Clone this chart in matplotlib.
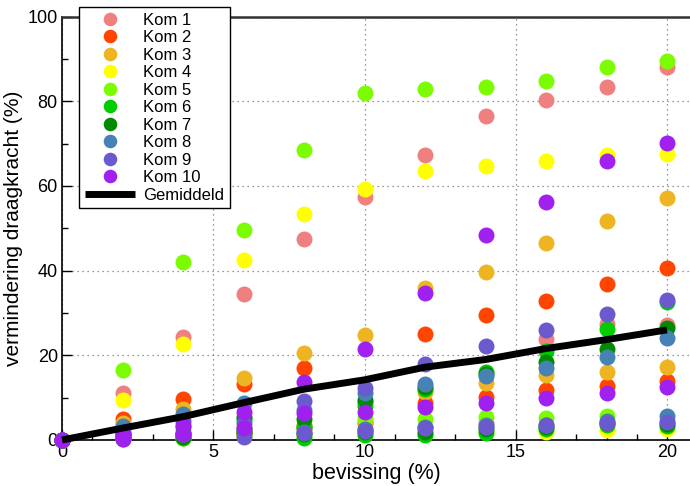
import matplotlib
matplotlib.use("Agg")
import matplotlib.pyplot as plt
from matplotlib.ticker import MultipleLocator

plt.rcParams["font.family"] = ["Liberation Sans", "DejaVu Sans"]

bevissing = [0, 2, 4, 6, 8, 10, 12, 14, 16, 18, 20]
labels = [f"Kom {i}" for i in range(1, 11)]
colors = ["#f08080", "#ff4500", "#eeb422", "#ffff00", "#7cfc00",
          "#00cd00", "#008b00", "#4682b4", "#6a5acd", "#a020f0"]

# upper scenario per Kom (%)
kom_hoog = [
    [0, 11.0, 24.3, 34.4, 47.4, 57.3, 67.4, 76.5, 80.4, 83.3, 88.1],
    [0, 5.0, 9.6, 13.2, 16.9, 9.0, 25.0, 29.5, 32.9, 36.8, 40.5],
    [0, 4.0, 7.4, 14.6, 20.5, 24.9, 35.8, 39.6, 46.6, 51.7, 57.2],
    [0, 9.5, 22.7, 42.5, 53.4, 59.2, 63.6, 64.7, 65.9, 67.3, 67.5],
    [0, 16.5, 42.0, 49.7, 68.4, 82.0, 83.0, 83.4, 84.8, 88.1, 89.5],
    [0, 1.0, 2.0, 5.0, 3.0, 8.0, 12.0, 16.1, 20.9, 26.1, 32.5],
    [0, 1.5, 3.0, 5.5, 5.0, 9.4, 12.5, 15.5, 18.5, 21.6, 26.4],
    [0, 3.3, 6.2, 8.7, 7.0, 11.0, 13.2, 15.0, 16.9, 19.7, 24.0],
    [0, 2.0, 4.5, 4.0, 9.1, 12.2, 17.9, 22.2, 26.0, 29.7, 33.1],
    [0, 1.5, 3.5, 6.7, 13.8, 21.5, 34.6, 48.4, 56.3, 65.8, 70.1],
]
# lower scenario per Kom (%)
kom_laag = [
    [0, 0.5, 1.0, 2.0, 2.5, 2.5, 3.0, 4.0, 23.8, 27.4, 27.2],
    [0, 0.8, 1.2, 2.0, 3.0, 4.0, 8.7, 10.2, 11.8, 12.8, 13.9],
    [0, 0.6, 1.0, 2.5, 3.5, 4.5, 11.4, 13.4, 15.3, 16.1, 17.3],
    [0, 0.3, 0.5, 1.0, 1.0, 1.5, 1.5, 2.0, 2.0, 2.4, 2.5],
    [0, 1.2, 1.5, 3.0, 3.5, 5.2, 5.0, 5.5, 5.1, 5.7, 4.5],
    [0, 0.2, 0.4, 1.5, 0.5, 1.2, 1.2, 1.6, 2.5, 3.5, 3.3],
    [0, 0.5, 0.8, 2.0, 1.5, 2.0, 2.0, 2.5, 3.0, 4.0, 3.8],
    [0, 1.0, 1.5, 2.5, 2.0, 2.5, 3.0, 3.5, 3.5, 4.5, 5.7],
    [0, 0.8, 1.5, 0.8, 1.6, 2.2, 2.8, 3.1, 3.5, 3.9, 4.3],
    [0, 0.3, 1.5, 2.8, 6.3, 6.7, 7.7, 8.7, 9.8, 11.0, 12.6],
]
gemiddeld = [0, 2.8, 5.5, 8.8, 12.0, 14.2, 17.2, 19.0, 21.6, 23.7, 26.0]

fig = plt.figure(figsize=(6.9, 4.86), dpi=100)
ax = fig.add_axes([0.0899, 0.0947, 0.9101, 0.8713])

for lab, col, hi, lo in zip(labels, colors, kom_hoog, kom_laag):
    ax.plot(bevissing + bevissing, hi + lo, "o", color=col, ms=11.5,
            mec="none", label=lab, clip_on=False, zorder=3)
ax.plot(bevissing, gemiddeld, color="black", lw=5, label="Gemiddeld",
        solid_capstyle="butt", clip_on=False, zorder=4)

ax.set_xlim(0, 20.76)
ax.set_ylim(0, 100)
ax.xaxis.set_major_locator(MultipleLocator(5))
ax.xaxis.set_minor_locator(MultipleLocator(1))
ax.yaxis.set_major_locator(MultipleLocator(20))
ax.yaxis.set_minor_locator(MultipleLocator(10))
ax.tick_params(which="both", direction="in", top=False, right=False,
               labelsize=13, width=1, pad=3)
ax.tick_params(which="major", length=7)
ax.tick_params(which="minor", length=4)
ax.grid(True, which="major", ls=(0, (1, 3)), color="#777777", lw=0.9)
ax.set_axisbelow(True)
ax.spines["right"].set_visible(False)
for s in ("left", "bottom"):
    ax.spines[s].set_linewidth(1.2)
ax.spines["top"].set_linewidth(1.8)
ax.spines["top"].set_color("#333333")

ax.set_xlabel("bevissing (%)", fontsize=15.5, labelpad=1)
ax.set_ylabel("vermindering draagkracht (%)", fontsize=15, labelpad=3)

leg = ax.legend(loc="upper left", bbox_to_anchor=(0.027, 1.023),
                borderaxespad=0, fontsize=12, labelspacing=0.15,
                handlelength=3.0, handletextpad=0.5, borderpad=0.35,
                fancybox=False, framealpha=1, edgecolor="black",
                markerscale=0.85)
leg.get_frame().set_linewidth(1)
leg.set_zorder(10)

fig.savefig("out.png", dpi=100)
